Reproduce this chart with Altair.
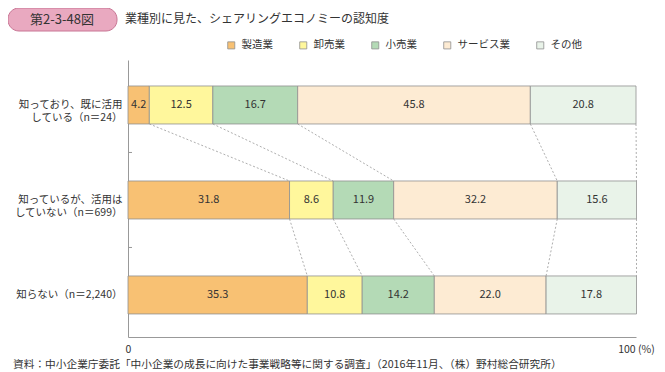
import altair as alt
import pandas as pd

FONT = "Noto Sans CJK JP"

categories = ["製造業", "卸売業", "小売業", "サービス業", "その他"]
colors = ["#F8C173", "#FFF79C", "#B4DAB6", "#FDEBD3", "#E9F3E9"]
rows = [
    "知っており、既に活用|している（n＝24）",
    "知っているが、活用は|していない（n＝699）",
    "知らない（n＝2,240）",
]
values_row1 = [4.2, 12.5, 16.7, 45.8, 20.8]
values_row2 = [31.8, 8.6, 11.9, 32.2, 15.6]
values_row3 = [35.3, 10.8, 14.2, 22.0, 17.8]
x_ticks = [0, 100]
title_tag = "第2-3-48図"
title_text = "業種別に見た、シェアリングエコノミーの認知度"
source_text = "資料：中小企業庁委託「中小企業の成長に向けた事業戦略等に関する調査」（2016年11月、（株）野村総合研究所）"

all_values = [values_row1, values_row2, values_row3]

# bar table
recs = []
cums = []
for r, vals in zip(rows, all_values):
    c = 0.0
    cum = []
    for k, (cat, v) in enumerate(zip(categories, vals)):
        recs.append({"row": r, "cat": cat, "order": k, "start": c, "end": c + v,
                     "mid": c + v / 2, "value": v})
        c += v
        cum.append(c)
    cums.append(cum)
df = pd.DataFrame(recs)

# connector table
conn = []
for i in range(len(rows) - 1):
    for k in range(len(categories)):
        conn.append({"row_a": rows[i], "row_b": rows[i + 1],
                     "xa": cums[i][k], "xb": cums[i + 1][k]})
dconn = pd.DataFrame(conn)

dticks = pd.DataFrame({"row": rows[:-1]})

W, H = 508, 277

yscale = alt.Scale(domain=rows, paddingInner=0.6, paddingOuter=0.258, align=0.53)
xscale = alt.Scale(domain=[0, 100], nice=False)

ycommon = alt.Y("row:N", scale=yscale, sort=rows,
                axis=alt.Axis(title=None, ticks=False, domainColor="#999999",
                              labelExpr="split(datum.value, '|')",
                              labelFont=FONT, labelFontSize=10.5, labelColor="#333333",
                              labelLineHeight=13.5, labelPadding=6, labelLimit=200))

bars = alt.Chart(df).mark_bar(stroke="#8f8f8f", strokeWidth=0.8).encode(
    x=alt.X("start:Q", scale=xscale,
            axis=alt.Axis(title=None, values=x_ticks, ticks=False, grid=False,
                          domainColor="#999999",
                          labelExpr="datum.value == 100 ? '100 (%)' : datum.label",
                          labelFont=FONT, labelFontSize=10.5, labelColor="#333333",
                          labelPadding=7, labelFlush=False)),
    x2="end:Q",
    y=ycommon,
    fill=alt.Fill("cat:N", scale=alt.Scale(domain=categories, range=colors),
                  legend=alt.Legend(title=None, orient="none", legendX=98, legendY=-20,
                                    direction="horizontal", symbolType="square",
                                    symbolSize=50, symbolStrokeColor="#8f8f8f",
                                    symbolStrokeWidth=0.8, labelFont=FONT,
                                    labelFontSize=10.5, labelColor="#333333",
                                    columnPadding=25, labelOffset=5, padding=0)),
)

labels = alt.Chart(df).mark_text(font=FONT, fontSize=11, color="#333333").encode(
    x=alt.X("mid:Q", scale=xscale),
    y=alt.Y("row:N", scale=yscale, sort=rows),
    text=alt.Text("value:Q", format=".1f"),
)

connectors = alt.Chart(dconn).mark_rule(
    yOffset=19, y2Offset=-19, strokeDash=[2, 2], color="#999999", strokeWidth=0.8
).encode(
    x=alt.X("xa:Q", scale=xscale),
    x2="xb:Q",
    y=alt.Y("row_a:N", scale=yscale, sort=rows),
    y2="row_b:N",
)

band_ticks = alt.Chart(dticks).mark_rule(yOffset=47.5, color="#999999", strokeWidth=1).encode(
    y=alt.Y("row:N", scale=yscale, sort=rows),
    x=alt.value(0),
    x2=alt.value(4),
)

tagbox = alt.Chart(pd.DataFrame({"t": [title_tag]})).mark_rect(
    fill="#E9A9C0", stroke="#C87594", strokeWidth=1, cornerRadius=11
).encode(x=alt.value(-120), x2=alt.value(-11), y=alt.value(-52), y2=alt.value(-29))

tagtext = alt.Chart(pd.DataFrame({"t": [title_tag]})).mark_text(
    font=FONT, fontSize=13, color="#333333", align="center", baseline="middle"
).encode(x=alt.value(-66), y=alt.value(-40.5), text="t:N")

titletext = alt.Chart(pd.DataFrame({"t": [title_text]})).mark_text(
    font=FONT, fontSize=12, color="#333333", align="left", baseline="middle"
).encode(x=alt.value(-3), y=alt.value(-41), text="t:N")

source = alt.Chart(pd.DataFrame({"t": [source_text]})).mark_text(
    font=FONT, fontSize=10.7, color="#333333", align="left", baseline="middle"
).encode(x=alt.value(-115), y=alt.value(305), text="t:N")

chart = alt.layer(bars, labels, connectors, band_ticks, tagbox, tagtext, titletext, source).properties(
    width=W, height=H,
    autosize=alt.AutoSizeParams(type="none"),
    padding={"left": 120, "top": 52, "right": 21, "bottom": 35},
).configure_view(stroke=None).configure_axis(grid=False)

chart.save("out.html", embed_options={"renderer": "svg", "actions": False})
